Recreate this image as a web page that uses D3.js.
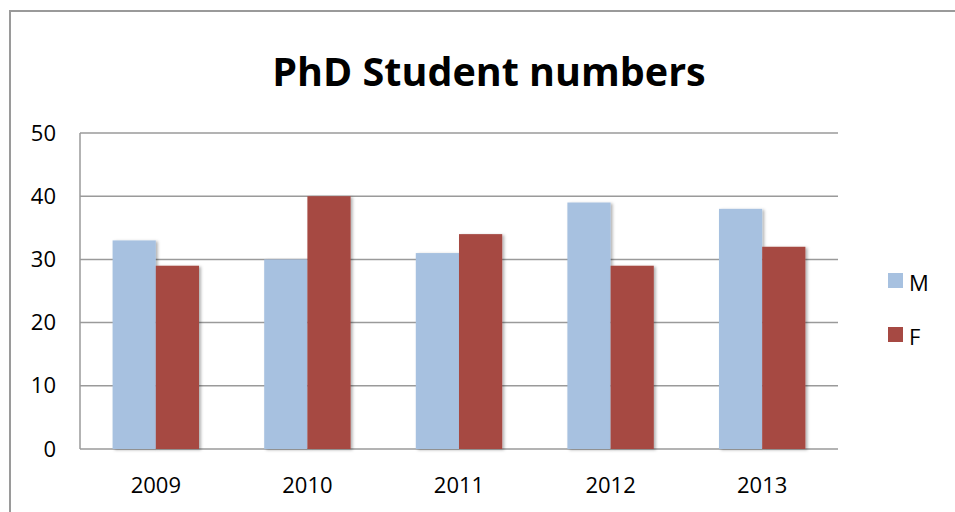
<!DOCTYPE html>
<html>
<head>
<meta charset="utf-8">
<script src="https://cdn.jsdelivr.net/npm/d3@7"></script>
<style>
body { margin: 0; background: #fff; }
text { font-family: "Open Sans", "Noto Sans", sans-serif; }
</style>
</head>
<body>
<div id="c"></div>
<script>
var years = ['2009', '2010', '2011', '2012', '2013'];
var series = ['M', 'F'];
var m_vals = [33, 30, 31, 39, 38];
var f_vals = [29, 40, 34, 29, 32];
var y_ticks = [0, 10, 20, 30, 40, 50];
var colors = ['#a7c1e0', '#a64943'];

var width = 955, height = 512;
var p_left = 80, p_right = 838, p_top = 133, p_bottom = 449;

var svg = d3.select('#c').append('svg')
	.attr('width', width)
	.attr('height', height);

var defs = svg.append('defs');
var shadow = defs.append('filter')
	.attr('id', 'shadow')
	.attr('x', '-20%').attr('y', '-20%')
	.attr('width', '150%').attr('height', '150%');
shadow.append('feDropShadow')
	.attr('dx', 2).attr('dy', 1)
	.attr('stdDeviation', 1.6)
	.attr('flood-color', '#000')
	.attr('flood-opacity', 0.3);

// outer chart border, runs off the right and bottom edge
svg.append('rect')
	.attr('x', 10).attr('y', 11)
	.attr('width', 1000).attr('height', 600)
	.attr('fill', 'none')
	.attr('stroke', '#9a9a9a')
	.attr('stroke-width', 2);

svg.append('text')
	.attr('x', 489).attr('y', 86)
	.attr('text-anchor', 'middle')
	.attr('font-size', 39.5)
	.attr('font-weight', 'bold')
	.text('PhD Student numbers');

var x_scale = d3.scaleBand()
	.domain(years)
	.range([p_left, p_right])
	.paddingInner(0.43)
	.paddingOuter(0.215);

var x_inner = d3.scaleBand()
	.domain(series)
	.range([0, x_scale.bandwidth()]);

var y_scale = d3.scaleLinear()
	.domain([0, 50])
	.range([p_bottom, p_top]);

// gridlines
svg.append('g')
	.selectAll('line')
	.data(y_ticks)
	.enter()
	.append('line')
	.attr('x1', p_left).attr('x2', p_right)
	.attr('y1', function(d) { return y_scale(d); })
	.attr('y2', function(d) { return y_scale(d); })
	.attr('stroke', '#9a9a9a')
	.attr('stroke-width', 1.5);

svg.append('line')
	.attr('x1', p_left).attr('x2', p_left)
	.attr('y1', p_top).attr('y2', p_bottom)
	.attr('stroke', '#9a9a9a')
	.attr('stroke-width', 1.5);

var yax = svg.append('g')
	.attr('transform', 'translate(' + p_left + ',0)')
	.call(d3.axisLeft(y_scale).tickValues(y_ticks).tickSize(0).tickPadding(24));
yax.select('.domain').remove();
yax.selectAll('text')
	.attr('font-size', 22)
	.attr('fill', '#000')
	.style('font-family', '"Open Sans", sans-serif');

var xax = svg.append('g')
	.attr('transform', 'translate(0,' + p_bottom + ')')
	.call(d3.axisBottom(x_scale).tickSize(0).tickPadding(28));
xax.select('.domain').remove();
xax.selectAll('text')
	.attr('font-size', 22)
	.attr('fill', '#000')
	.style('font-family', '"Open Sans", sans-serif');

var rows = years.map(function(y, i) { return { year: y, vals: [m_vals[i], f_vals[i]] }; });

var groups = svg.append('g')
	.selectAll('g')
	.data(rows)
	.enter()
	.append('g')
	.attr('transform', function(d) { return 'translate(' + x_scale(d.year) + ',0)'; });

groups.selectAll('rect')
	.data(function(d) { return d.vals.map(function(v, j) { return { s: series[j], v: v, j: j }; }); })
	.enter()
	.append('rect')
	.attr('x', function(d) { return x_inner(d.s); })
	.attr('y', function(d) { return y_scale(d.v); })
	.attr('width', x_inner.bandwidth())
	.attr('height', function(d) { return p_bottom - y_scale(d.v); })
	.attr('fill', function(d) { return colors[d.j]; })
	.attr('filter', 'url(#shadow)');

// legend
var legend = svg.append('g')
	.selectAll('g')
	.data(series)
	.enter()
	.append('g')
	.attr('transform', function(d, i) { return 'translate(888,' + (273 + i * 54) + ')'; });

legend.append('rect')
	.attr('width', 15).attr('height', 15)
	.attr('fill', function(d, i) { return colors[i]; });

legend.append('text')
	.attr('x', 21).attr('y', 18)
	.attr('font-size', 22)
	.text(function(d) { return d; });
</script>
</body>
</html>
